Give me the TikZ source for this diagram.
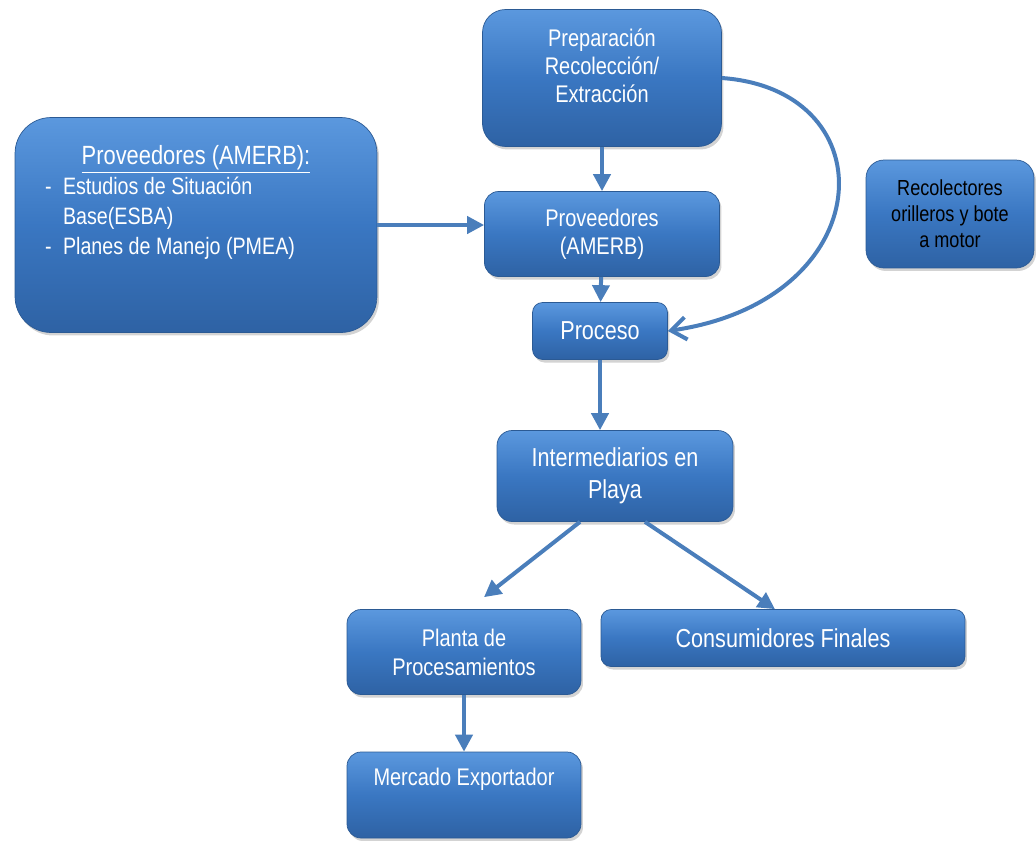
\documentclass[tikz,border=0pt]{standalone}
\usepackage{fontspec}
\setmainfont{Liberation Sans}[FakeStretch=0.83]
\usetikzlibrary{arrows.meta,shadows}
\definecolor{boxtop}{HTML}{5B98DE}
\definecolor{boxmid}{HTML}{3A77C2}
\definecolor{boxbot}{HTML}{2E62A4}
\definecolor{boxline}{HTML}{2B5A94}
\definecolor{arrowblue}{HTML}{4A7EBB}

\begin{document}
\begin{tikzpicture}[x=0.02cm,y=-0.02cm]
		\useasboundingbox (0,0) rectangle (1036,840);

		\begin{scope}[every node/.style={draw=boxline,thin,top color=boxtop,bottom color=boxbot,middle color=boxmid,
				drop shadow={opacity=0.35,shadow xshift=0.04cm,shadow yshift=-0.06cm},
				text=white,align=center,inner sep=0pt,font=\fontsize{13.7}{16}\selectfont}]
			\node[minimum width=4.78cm,minimum height=2.74cm,rounded corners=0.46cm,text depth=0.5cm] (prep) at (602,78) {Preparación\\Recolección/\\Extracción};
			\node[minimum width=4.70cm,minimum height=1.70cm,rounded corners=0.28cm] (prov) at (602,234) {Proveedores\\(AMERB)};
			\node[minimum width=2.70cm,minimum height=1.14cm,rounded corners=0.2cm,font=\fontsize{14.8}{18}\selectfont] (proc) at (600,331) {Proceso};
			\node[minimum width=4.72cm,minimum height=1.82cm,rounded corners=0.3cm,font=\fontsize{14.8}{18.2}\selectfont] (inter) at (615,476) {Intermediarios en\\Playa};
			\node[minimum width=7.24cm,minimum height=4.30cm,rounded corners=0.72cm] (provbox) at (196,225) {};
			\node[minimum width=3.36cm,minimum height=2.16cm,rounded corners=0.36cm,text=black,font=\fontsize{12.4}{14.8}\selectfont] (recol) at (950,214) {Recolectores\\orilleros y bote\\a motor};
			\node[minimum width=4.68cm,minimum height=1.70cm,rounded corners=0.28cm,font=\fontsize{13.7}{16.5}\selectfont] (planta) at (464,652) {Planta de\\Procesamientos};
			\node[minimum width=7.28cm,minimum height=1.14cm,rounded corners=0.2cm,font=\fontsize{14.8}{18}\selectfont] (consum) at (783,638) {Consumidores Finales};
			\node[minimum width=4.68cm,minimum height=1.72cm,rounded corners=0.28cm,text depth=0.71cm] (merc) at (464,795) {Mercado Exportador};
		\end{scope}

		\node[text=white,text width=6.4cm,align=left,inner sep=0pt,anchor=north,
			font=\fontsize{13.5}{17}\selectfont] (provtxt) at (196,145)
			{\spaceskip=0pt\xspaceskip=0pt
			{\centering\fontsize{15}{17}\selectfont\underline{Proveedores (AMERB):}\par}
			\hspace*{0.18cm}\makebox[0.36cm][l]{-}Estudios de Situación\\
			\hspace*{0.54cm}Base(ESBA)\\
			\hspace*{0.18cm}\makebox[0.36cm][l]{-}Planes de Manejo (PMEA)};

		\begin{scope}[>={Triangle[length=0.34cm,width=0.34cm]},arrowblue,line width=0.08cm]
			\draw[->] (prep) -- (prov);
			\draw[->] (provbox.east) -- (provbox.east -| prov.west);
			\draw[->] (prov) -- (proc);
			\draw[->] (proc.south) -- (proc.south |- inter.north);
			\draw[->] ([xshift=-0.7cm]inter.south) -- ([xshift=0.4cm,yshift=0.24cm]planta.north);
			\draw[->] ([xshift=0.6cm]inter.south) -- ([xshift=-0.16cm]consum.north);
			\draw[->] (planta) -- (merc);
			\draw[-{Straight Barb[length=0.3cm,width=0.45cm]}] (prep.east) .. controls (890,90) and (880,300) .. (proc.east);
		\end{scope}
	\end{tikzpicture}
\end{document}
